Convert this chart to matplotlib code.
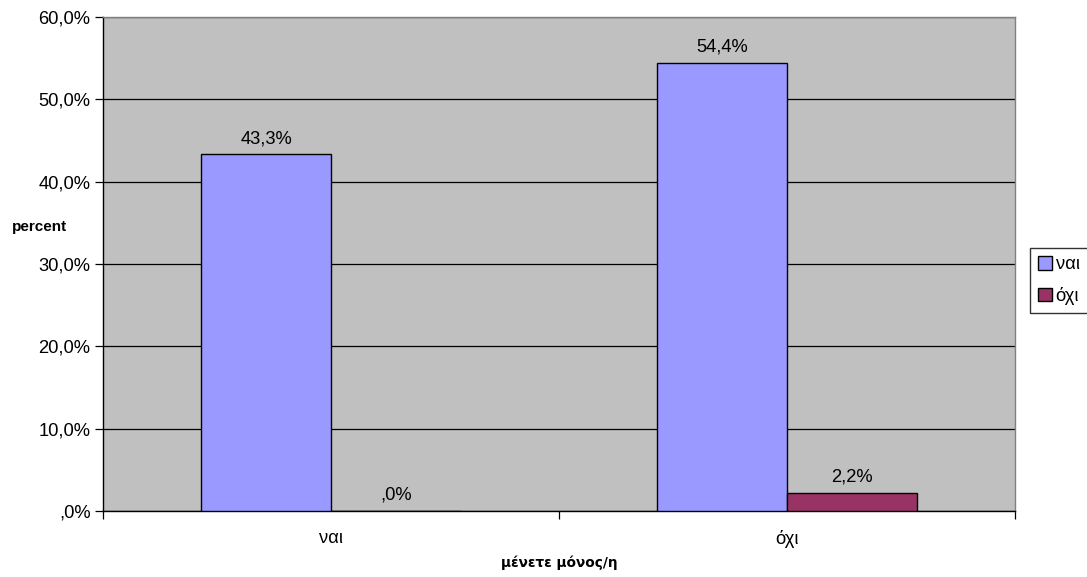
import matplotlib
matplotlib.use("Agg")
import matplotlib.pyplot as plt
import numpy as np
from matplotlib.ticker import FuncFormatter, FixedLocator

categories = ["ναι", "όχι"]
series_names = ["ναι", "όχι"]
series_values = [
    [43.3, 54.4],  # ναι
    [0.0, 2.2],    # όχι
]
series_colors = ["#9999FF", "#993366"]
y_ticks = [0, 10, 20, 30, 40, 50, 60]

plt.rcParams["font.family"] = ["Liberation Sans", "DejaVu Sans"]

fig = plt.figure(figsize=(10.87, 5.77), dpi=100)
ax = fig.add_axes([103 / 1087, 1 - 511 / 577, 912 / 1087, 494 / 577])
ax.set_facecolor("#C0C0C0")

x = np.arange(len(categories))
width = 0.285
offsets = [-width / 2, width / 2]
FS = 13.2


def pct(v):
    s = f"{v:.1f}".replace(".", ",")
    if s.startswith("0,"):
        s = s[1:]
    return s + "%"


for vals, color, off, name in zip(series_values, series_colors, offsets, series_names):
    bars = ax.bar(x + off, vals, width, color=color, edgecolor="black",
                  linewidth=1.0, label=name, zorder=3)
    for b, v in zip(bars, vals):
        ax.text(b.get_x() + b.get_width() / 2, v + 0.9, pct(v),
                ha="center", va="bottom", fontsize=FS, zorder=4)

ax.set_xlim(-0.5, len(categories) - 0.5)
ax.set_ylim(0, 60)
ax.set_yticks(y_ticks)
ax.yaxis.set_major_formatter(FuncFormatter(lambda v, p: pct(v)))
ax.yaxis.grid(True, color="black", linewidth=0.9, zorder=1)
ax.set_axisbelow(True)

ax.set_xticks(x)
ax.set_xticklabels(categories, fontsize=FS)
ax.xaxis.set_minor_locator(FixedLocator([-0.5, 0.5, 1.5]))
ax.tick_params(axis="x", which="major", length=0, pad=14)
ax.tick_params(axis="x", which="minor", length=6, width=0.9, direction="out")
ax.tick_params(axis="y", length=6, width=0.9, direction="out", labelsize=FS, pad=3)

for side in ["left", "bottom"]:
    ax.spines[side].set_color("black")
    ax.spines[side].set_linewidth(1.0)
for side in ["top", "right"]:
    ax.spines[side].set_color("#808080")
    ax.spines[side].set_linewidth(1.0)

fig.text(559 / 1087, 1 - 563 / 577, "μένετε μόνος/η", fontsize=9.8,
         fontweight="bold", ha="center", va="center",
         family=["DejaVu Sans"])
fig.text(12 / 1087, 1 - 227 / 577, "percent", fontsize=11, fontweight="bold",
         ha="left", va="center")

leg = ax.legend(loc="upper left", bbox_to_anchor=(1030 / 1087, 1 - 248 / 577),
                bbox_transform=fig.transFigure, frameon=True, fancybox=False,
                fontsize=FS, handlelength=0.75, handleheight=0.75,
                handletextpad=0.2, labelspacing=0.75, borderpad=0.45,
                borderaxespad=0)
leg.get_frame().set_edgecolor("black")
leg.get_frame().set_linewidth(1.0)

fig.savefig("out.png", dpi=100)
